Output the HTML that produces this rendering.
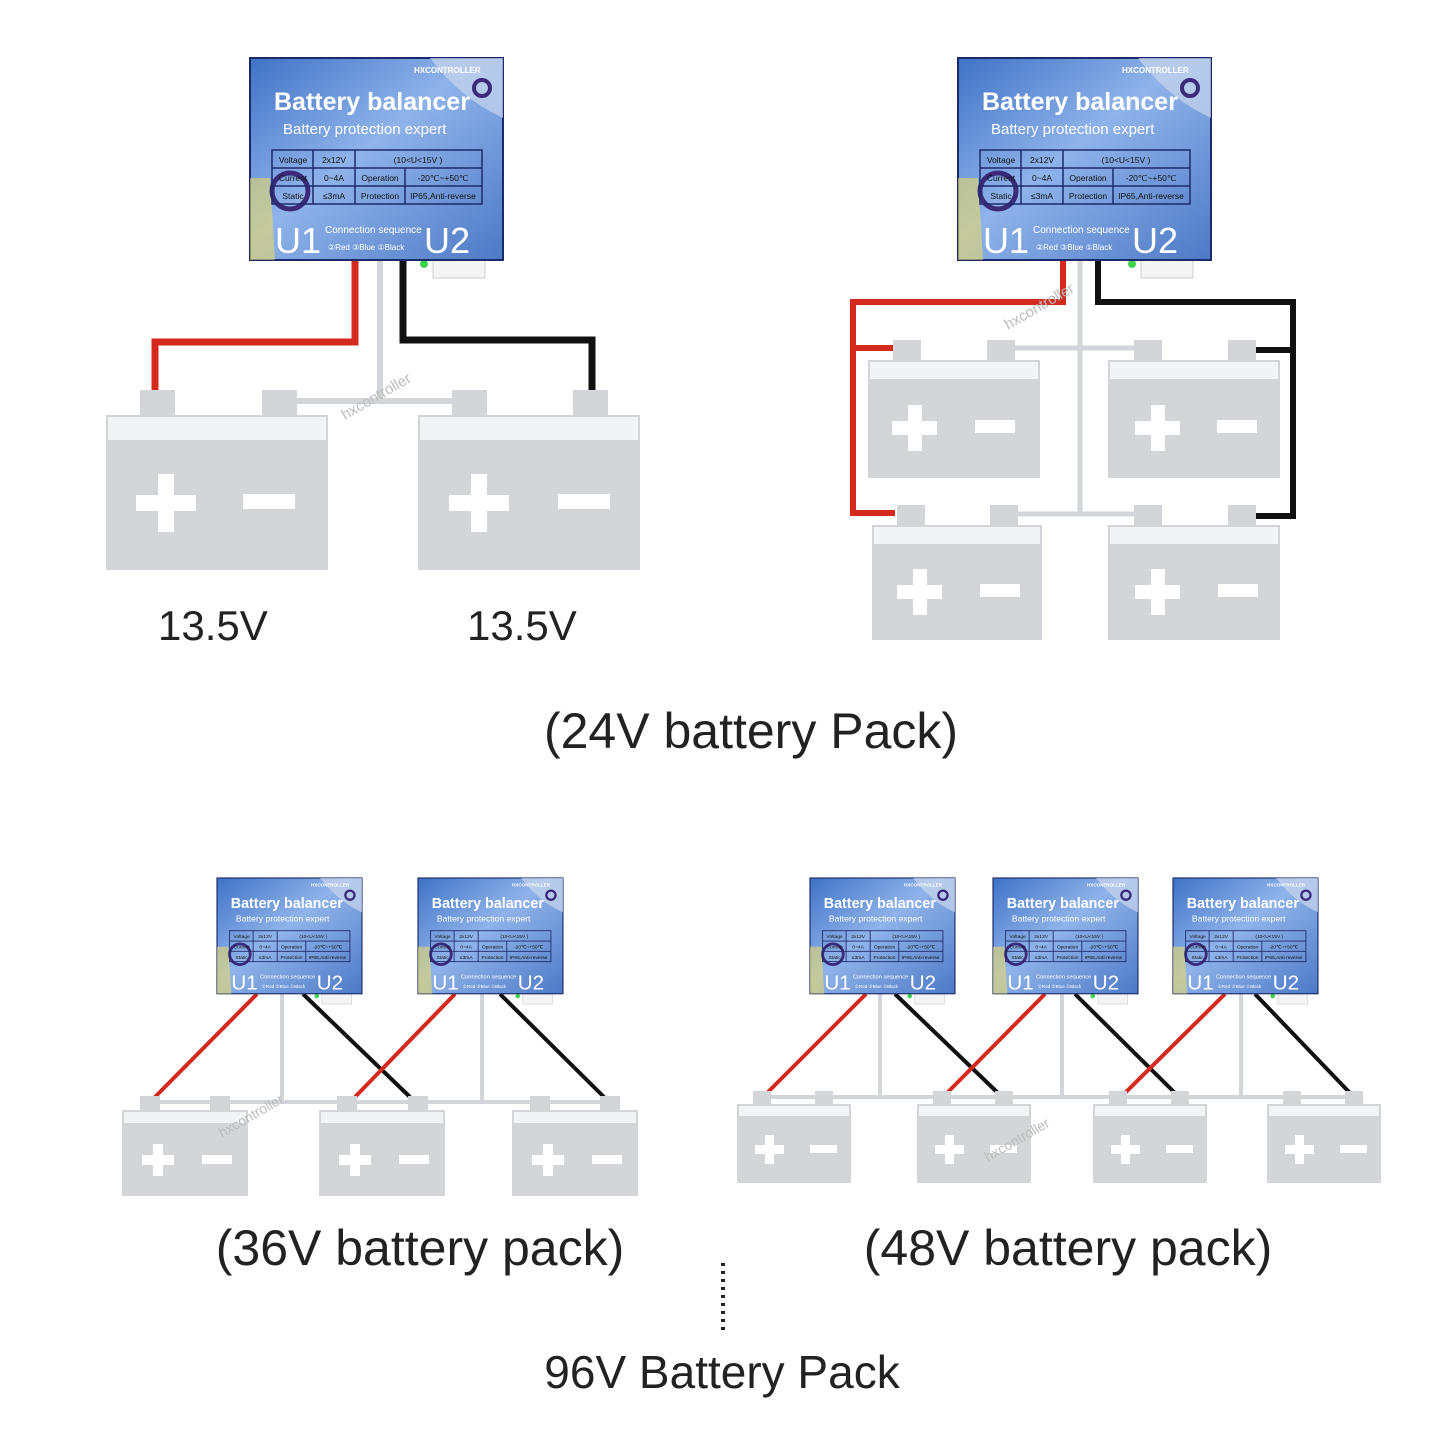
<!DOCTYPE html>
<html><head><meta charset="utf-8"><style>
html,body{margin:0;padding:0;background:#fff}
svg{display:block}
text{font-family:"Liberation Sans",sans-serif}
</style></head><body>
<svg width="1445" height="1445" viewBox="0 0 1445 1445" xmlns="http://www.w3.org/2000/svg">
<defs>
<linearGradient id="bg" x1="0" y1="0" x2="1" y2="1">
<stop offset="0" stop-color="#3f72c6"/><stop offset="0.45" stop-color="#8fb3ea"/><stop offset="1" stop-color="#4d79c6"/>
</linearGradient>
</defs>

<!-- ===== TOP LEFT ===== -->
<g fill="none" stroke-linejoin="miter">
<polyline points="355,258 355,342 155,342 155,392" stroke="#d42a1e" stroke-width="7"/>
<polyline points="380,258 380,400" stroke="#d2d5da" stroke-width="6"/>
<polyline points="403,258 403,340 592,340 592,392" stroke="#111" stroke-width="7"/>
<line x1="295" y1="401" x2="455" y2="401" stroke="#d2d5da" stroke-width="6"/>
</g>
<g fill="#d3d5d9">
<rect x="140" y="390" width="35" height="26"/><rect x="262" y="390" width="35" height="26"/>
<rect x="106" y="415" width="222" height="155"/>
<rect x="452" y="390" width="35" height="26"/><rect x="573" y="390" width="35" height="26"/>
<rect x="418" y="415" width="222" height="155"/>
</g>
<g fill="#f2f3f5"><rect x="108" y="417" width="218" height="23"/><rect x="420" y="417" width="218" height="23"/></g>
<g fill="#fff">
<rect x="136" y="495" width="60" height="16"/><rect x="158" y="474" width="16" height="58"/><rect x="243" y="494" width="52" height="15"/>
<rect x="449" y="495" width="60" height="16"/><rect x="471" y="474" width="16" height="58"/><rect x="558" y="494" width="52" height="15"/>
</g>
<text x="158" y="640" font-size="42" fill="#222">13.5V</text>
<text x="467" y="640" font-size="42" fill="#222">13.5V</text>
<text x="345" y="420" font-size="15" fill="#bbb" transform="rotate(-30 345 420)">hxcontroller</text>

<!-- ===== TOP RIGHT ===== -->
<g fill="none">
<polyline points="1063,258 1063,302 853,302 853,513 895,513" stroke="#d42a1e" stroke-width="6"/>
<line x1="853" y1="348" x2="895" y2="348" stroke="#d42a1e" stroke-width="6"/>
<polyline points="1098,258 1098,302 1293,302 1293,516 1255,516" stroke="#111" stroke-width="6"/>
<line x1="1255" y1="350" x2="1293" y2="350" stroke="#111" stroke-width="6"/>
<line x1="1080" y1="258" x2="1080" y2="515" stroke="#d2d5da" stroke-width="5"/>
<line x1="1015" y1="348" x2="1134" y2="348" stroke="#d2d5da" stroke-width="5"/>
<line x1="1018" y1="514" x2="1134" y2="514" stroke="#d2d5da" stroke-width="5"/>
</g>
<g fill="#d3d5d9">
<rect x="893" y="340" width="28" height="22"/><rect x="987" y="340" width="28" height="22"/>
<rect x="1134" y="340" width="28" height="22"/><rect x="1228" y="340" width="28" height="22"/>
<rect x="868" y="360" width="172" height="118"/><rect x="1108" y="360" width="172" height="118"/>
<rect x="897" y="505" width="28" height="22"/><rect x="990" y="505" width="28" height="22"/>
<rect x="1134" y="505" width="28" height="22"/><rect x="1228" y="505" width="28" height="22"/>
<rect x="872" y="525" width="170" height="115"/><rect x="1108" y="525" width="172" height="115"/>
</g>
<g fill="#f2f3f5">
<rect x="870" y="362" width="168" height="17"/><rect x="1110" y="362" width="168" height="17"/>
<rect x="874" y="527" width="166" height="17"/><rect x="1110" y="527" width="168" height="17"/>
</g>
<g fill="#fff">
<rect x="892" y="421" width="45" height="14"/><rect x="908" y="405" width="14" height="46"/><rect x="975" y="420" width="40" height="13"/>
<rect x="1135" y="421" width="45" height="14"/><rect x="1151" y="405" width="14" height="46"/><rect x="1217" y="420" width="40" height="13"/>
<rect x="897" y="585" width="45" height="14"/><rect x="913" y="569" width="14" height="46"/><rect x="980" y="584" width="40" height="13"/>
<rect x="1135" y="585" width="45" height="14"/><rect x="1151" y="569" width="14" height="46"/><rect x="1218" y="584" width="40" height="13"/>
</g>
<text x="1008" y="330" font-size="15" fill="#bbb" transform="rotate(-30 1008 330)">hxcontroller</text>

<text x="751" y="748" font-size="50" fill="#222" text-anchor="middle">(24V battery Pack)</text>

<!-- ===== 36V ===== -->
<g fill="none">
<line x1="282" y1="992" x2="282" y2="1102" stroke="#d2d5da" stroke-width="4"/>
<line x1="482" y1="992" x2="482" y2="1102" stroke="#d2d5da" stroke-width="4"/>
<line x1="150" y1="1102" x2="612" y2="1102" stroke="#d2d5da" stroke-width="4"/>
<line x1="257" y1="994" x2="155" y2="1097" stroke="#d42a1e" stroke-width="4"/>
<line x1="303" y1="994" x2="410" y2="1097" stroke="#111" stroke-width="4"/>
<line x1="455" y1="994" x2="355" y2="1097" stroke="#d42a1e" stroke-width="4"/>
<line x1="500" y1="994" x2="604" y2="1097" stroke="#111" stroke-width="4"/>
</g>
<g fill="#d3d5d9">
<rect x="140" y="1096" width="20" height="14"/><rect x="210" y="1096" width="20" height="14"/><rect x="122" y="1110" width="126" height="86"/>
<rect x="337" y="1096" width="20" height="14"/><rect x="408" y="1096" width="20" height="14"/><rect x="319" y="1110" width="126" height="86"/>
<rect x="530" y="1096" width="20" height="14"/><rect x="600" y="1096" width="20" height="14"/><rect x="512" y="1110" width="126" height="86"/>
</g>
<g fill="#f2f3f5"><rect x="124" y="1112" width="122" height="11"/><rect x="321" y="1112" width="122" height="11"/><rect x="514" y="1112" width="122" height="11"/></g>
<g fill="#fff">
<rect x="142" y="1155" width="32" height="10"/><rect x="153" y="1144" width="10" height="32"/><rect x="202" y="1155" width="30" height="9"/>
<rect x="339" y="1155" width="32" height="10"/><rect x="350" y="1144" width="10" height="32"/><rect x="399" y="1155" width="30" height="9"/>
<rect x="532" y="1155" width="32" height="10"/><rect x="543" y="1144" width="10" height="32"/><rect x="592" y="1155" width="30" height="9"/>
</g>
<text x="222" y="1138" font-size="14" fill="#bbb" transform="rotate(-30 222 1138)">hxcontroller</text>
<text x="420" y="1265" font-size="50" fill="#222" text-anchor="middle">(36V battery pack)</text>

<!-- ===== 48V ===== -->
<g fill="none">
<line x1="880" y1="992" x2="880" y2="1097" stroke="#d2d5da" stroke-width="4"/>
<line x1="1062" y1="992" x2="1062" y2="1097" stroke="#d2d5da" stroke-width="4"/>
<line x1="1241" y1="992" x2="1241" y2="1097" stroke="#d2d5da" stroke-width="4"/>
<line x1="760" y1="1097" x2="1360" y2="1097" stroke="#d2d5da" stroke-width="4"/>
<line x1="866" y1="994" x2="767" y2="1093" stroke="#d42a1e" stroke-width="4"/>
<line x1="895" y1="994" x2="998" y2="1093" stroke="#111" stroke-width="4"/>
<line x1="1045" y1="994" x2="947" y2="1093" stroke="#d42a1e" stroke-width="4"/>
<line x1="1075" y1="994" x2="1175" y2="1093" stroke="#111" stroke-width="4"/>
<line x1="1225" y1="994" x2="1125" y2="1093" stroke="#d42a1e" stroke-width="4"/>
<line x1="1255" y1="994" x2="1350" y2="1093" stroke="#111" stroke-width="4"/>
</g>
<g fill="#d3d5d9">
<rect x="753" y="1091" width="18" height="14"/><rect x="815" y="1091" width="18" height="14"/><rect x="737" y="1104" width="114" height="79"/>
<rect x="933" y="1091" width="18" height="14"/><rect x="995" y="1091" width="18" height="14"/><rect x="917" y="1104" width="114" height="79"/>
<rect x="1109" y="1091" width="18" height="14"/><rect x="1171" y="1091" width="18" height="14"/><rect x="1093" y="1104" width="114" height="79"/>
<rect x="1283" y="1091" width="18" height="14"/><rect x="1345" y="1091" width="18" height="14"/><rect x="1267" y="1104" width="114" height="79"/>
</g>
<g fill="#f2f3f5"><rect x="739" y="1106" width="110" height="10"/><rect x="919" y="1106" width="110" height="10"/><rect x="1095" y="1106" width="110" height="10"/><rect x="1269" y="1106" width="110" height="10"/></g>
<g fill="#fff">
<rect x="755" y="1145" width="29" height="9"/><rect x="765" y="1135" width="9" height="29"/><rect x="810" y="1145" width="27" height="8"/>
<rect x="935" y="1145" width="29" height="9"/><rect x="945" y="1135" width="9" height="29"/><rect x="990" y="1145" width="27" height="8"/>
<rect x="1111" y="1145" width="29" height="9"/><rect x="1121" y="1135" width="9" height="29"/><rect x="1166" y="1145" width="27" height="8"/>
<rect x="1285" y="1145" width="29" height="9"/><rect x="1295" y="1135" width="9" height="29"/><rect x="1340" y="1145" width="27" height="8"/>
</g>
<text x="988" y="1162" font-size="14" fill="#bbb" transform="rotate(-30 988 1162)">hxcontroller</text>
<text x="1068" y="1265" font-size="50" fill="#222" text-anchor="middle">(48V battery pack)</text>

<line x1="723" y1="1263" x2="723" y2="1330" stroke="#222" stroke-width="4" stroke-dasharray="3,5"/>
<text x="722" y="1388" font-size="46" fill="#222" text-anchor="middle" font-family="DejaVu Sans, sans-serif">96V Battery Pack</text>

<!-- ===== BALANCERS ===== -->
<g transform="translate(250,58)">
<rect x="170" y="202" width="8" height="8" rx="4" fill="#3cd44a"/>
<rect x="183" y="200" width="52" height="20" fill="#f4f4f4" stroke="#ccc"/>
<rect x="0" y="0" width="253" height="202" fill="url(#bg)" stroke="#1b2a6a" stroke-width="2"/>
<path d="M180,0 L253,0 L253,60 Q210,40 180,0Z" fill="#c9d6ee" opacity="0.7"/>
<path d="M0,120 L20,120 L25,202 L0,202Z" fill="#e8d86a" opacity="0.6"/>
<circle cx="40" cy="133" r="18" fill="none" stroke="#3b2a7a" stroke-width="5"/>
<circle cx="232" cy="30" r="8" fill="none" stroke="#3b2a7a" stroke-width="4"/>
<text x="164" y="15" font-size="8" fill="#fff" font-weight="bold">HXCONTROLLER</text>
<text x="24" y="52" font-size="25" fill="#fff" font-weight="bold">Battery balancer</text>
<text x="33" y="76" font-size="15" fill="#fff">Battery protection expert</text>
<g stroke="#1e2a6a" stroke-width="1.5" fill="none">
<rect x="22" y="92" width="210" height="54"/>
<line x1="22" y1="110" x2="232" y2="110"/><line x1="22" y1="128" x2="232" y2="128"/>
<line x1="63" y1="92" x2="63" y2="146"/><line x1="105" y1="92" x2="105" y2="146"/><line x1="155" y1="110" x2="155" y2="146"/>
</g>
<g font-size="8.5" fill="#111" text-anchor="middle">
<text x="43" y="105">Voltage</text><text x="84" y="105">2x12V</text><text x="168" y="105">(10&lt;U&lt;15V )</text>
<text x="43" y="123">Current</text><text x="84" y="123">0~4A</text><text x="130" y="123">Operation</text><text x="193" y="123">-20℃~+50℃</text>
<text x="43" y="141">Static</text><text x="84" y="141">≤3mA</text><text x="130" y="141">Protection</text><text x="193" y="141">IP65,Anti-reverse</text>
</g>
<text x="25" y="195" font-size="36" fill="#fff">U1</text>
<text x="174" y="195" font-size="36" fill="#fff">U2</text>
<text x="75" y="175" font-size="10" fill="#fff">Connection sequence</text>
<text x="78" y="192" font-size="8" fill="#fff">②Red  ③Blue  ①Black</text>
</g>

<g transform="translate(958,58)">
<rect x="170" y="202" width="8" height="8" rx="4" fill="#3cd44a"/>
<rect x="183" y="200" width="52" height="20" fill="#f4f4f4" stroke="#ccc"/>
<rect x="0" y="0" width="253" height="202" fill="url(#bg)" stroke="#1b2a6a" stroke-width="2"/>
<path d="M180,0 L253,0 L253,60 Q210,40 180,0Z" fill="#c9d6ee" opacity="0.7"/>
<path d="M0,120 L20,120 L25,202 L0,202Z" fill="#e8d86a" opacity="0.6"/>
<circle cx="40" cy="133" r="18" fill="none" stroke="#3b2a7a" stroke-width="5"/>
<circle cx="232" cy="30" r="8" fill="none" stroke="#3b2a7a" stroke-width="4"/>
<text x="164" y="15" font-size="8" fill="#fff" font-weight="bold">HXCONTROLLER</text>
<text x="24" y="52" font-size="25" fill="#fff" font-weight="bold">Battery balancer</text>
<text x="33" y="76" font-size="15" fill="#fff">Battery protection expert</text>
<g stroke="#1e2a6a" stroke-width="1.5" fill="none">
<rect x="22" y="92" width="210" height="54"/>
<line x1="22" y1="110" x2="232" y2="110"/><line x1="22" y1="128" x2="232" y2="128"/>
<line x1="63" y1="92" x2="63" y2="146"/><line x1="105" y1="92" x2="105" y2="146"/><line x1="155" y1="110" x2="155" y2="146"/>
</g>
<g font-size="8.5" fill="#111" text-anchor="middle">
<text x="43" y="105">Voltage</text><text x="84" y="105">2x12V</text><text x="168" y="105">(10&lt;U&lt;15V )</text>
<text x="43" y="123">Current</text><text x="84" y="123">0~4A</text><text x="130" y="123">Operation</text><text x="193" y="123">-20℃~+50℃</text>
<text x="43" y="141">Static</text><text x="84" y="141">≤3mA</text><text x="130" y="141">Protection</text><text x="193" y="141">IP65,Anti-reverse</text>
</g>
<text x="25" y="195" font-size="36" fill="#fff">U1</text>
<text x="174" y="195" font-size="36" fill="#fff">U2</text>
<text x="75" y="175" font-size="10" fill="#fff">Connection sequence</text>
<text x="78" y="192" font-size="8" fill="#fff">②Red  ③Blue  ①Black</text>
</g>

<g transform="translate(217,878) scale(0.573)">
<rect x="170" y="202" width="8" height="8" rx="4" fill="#3cd44a"/><rect x="183" y="200" width="52" height="20" fill="#f4f4f4" stroke="#ccc"/>
<rect x="0" y="0" width="253" height="202" fill="url(#bg)" stroke="#1b2a6a" stroke-width="2"/>
<path d="M180,0 L253,0 L253,60 Q210,40 180,0Z" fill="#c9d6ee" opacity="0.7"/><path d="M0,120 L20,120 L25,202 L0,202Z" fill="#e8d86a" opacity="0.6"/>
<circle cx="40" cy="133" r="18" fill="none" stroke="#3b2a7a" stroke-width="5"/><circle cx="232" cy="30" r="8" fill="none" stroke="#3b2a7a" stroke-width="4"/>
<text x="164" y="15" font-size="8" fill="#fff" font-weight="bold">HXCONTROLLER</text>
<text x="24" y="52" font-size="25" fill="#fff" font-weight="bold">Battery balancer</text><text x="33" y="76" font-size="15" fill="#fff">Battery protection expert</text>
<g stroke="#1e2a6a" stroke-width="1.5" fill="none"><rect x="22" y="92" width="210" height="54"/><line x1="22" y1="110" x2="232" y2="110"/><line x1="22" y1="128" x2="232" y2="128"/><line x1="63" y1="92" x2="63" y2="146"/><line x1="105" y1="92" x2="105" y2="146"/><line x1="155" y1="110" x2="155" y2="146"/></g>
<g font-size="8.5" fill="#111" text-anchor="middle"><text x="43" y="105">Voltage</text><text x="84" y="105">2x12V</text><text x="168" y="105">(10&lt;U&lt;15V )</text><text x="43" y="123">Current</text><text x="84" y="123">0~4A</text><text x="130" y="123">Operation</text><text x="193" y="123">-20℃~+50℃</text><text x="43" y="141">Static</text><text x="84" y="141">≤3mA</text><text x="130" y="141">Protection</text><text x="193" y="141">IP65,Anti-reverse</text></g>
<text x="25" y="195" font-size="36" fill="#fff">U1</text><text x="174" y="195" font-size="36" fill="#fff">U2</text>
<text x="75" y="175" font-size="10" fill="#fff">Connection sequence</text><text x="78" y="192" font-size="8" fill="#fff">②Red  ③Blue  ①Black</text>
</g>
<g transform="translate(418,878) scale(0.573)">
<rect x="170" y="202" width="8" height="8" rx="4" fill="#3cd44a"/><rect x="183" y="200" width="52" height="20" fill="#f4f4f4" stroke="#ccc"/>
<rect x="0" y="0" width="253" height="202" fill="url(#bg)" stroke="#1b2a6a" stroke-width="2"/>
<path d="M180,0 L253,0 L253,60 Q210,40 180,0Z" fill="#c9d6ee" opacity="0.7"/><path d="M0,120 L20,120 L25,202 L0,202Z" fill="#e8d86a" opacity="0.6"/>
<circle cx="40" cy="133" r="18" fill="none" stroke="#3b2a7a" stroke-width="5"/><circle cx="232" cy="30" r="8" fill="none" stroke="#3b2a7a" stroke-width="4"/>
<text x="164" y="15" font-size="8" fill="#fff" font-weight="bold">HXCONTROLLER</text>
<text x="24" y="52" font-size="25" fill="#fff" font-weight="bold">Battery balancer</text><text x="33" y="76" font-size="15" fill="#fff">Battery protection expert</text>
<g stroke="#1e2a6a" stroke-width="1.5" fill="none"><rect x="22" y="92" width="210" height="54"/><line x1="22" y1="110" x2="232" y2="110"/><line x1="22" y1="128" x2="232" y2="128"/><line x1="63" y1="92" x2="63" y2="146"/><line x1="105" y1="92" x2="105" y2="146"/><line x1="155" y1="110" x2="155" y2="146"/></g>
<g font-size="8.5" fill="#111" text-anchor="middle"><text x="43" y="105">Voltage</text><text x="84" y="105">2x12V</text><text x="168" y="105">(10&lt;U&lt;15V )</text><text x="43" y="123">Current</text><text x="84" y="123">0~4A</text><text x="130" y="123">Operation</text><text x="193" y="123">-20℃~+50℃</text><text x="43" y="141">Static</text><text x="84" y="141">≤3mA</text><text x="130" y="141">Protection</text><text x="193" y="141">IP65,Anti-reverse</text></g>
<text x="25" y="195" font-size="36" fill="#fff">U1</text><text x="174" y="195" font-size="36" fill="#fff">U2</text>
<text x="75" y="175" font-size="10" fill="#fff">Connection sequence</text><text x="78" y="192" font-size="8" fill="#fff">②Red  ③Blue  ①Black</text>
</g>
<g transform="translate(810,878) scale(0.573)">
<rect x="170" y="202" width="8" height="8" rx="4" fill="#3cd44a"/><rect x="183" y="200" width="52" height="20" fill="#f4f4f4" stroke="#ccc"/>
<rect x="0" y="0" width="253" height="202" fill="url(#bg)" stroke="#1b2a6a" stroke-width="2"/>
<path d="M180,0 L253,0 L253,60 Q210,40 180,0Z" fill="#c9d6ee" opacity="0.7"/><path d="M0,120 L20,120 L25,202 L0,202Z" fill="#e8d86a" opacity="0.6"/>
<circle cx="40" cy="133" r="18" fill="none" stroke="#3b2a7a" stroke-width="5"/><circle cx="232" cy="30" r="8" fill="none" stroke="#3b2a7a" stroke-width="4"/>
<text x="164" y="15" font-size="8" fill="#fff" font-weight="bold">HXCONTROLLER</text>
<text x="24" y="52" font-size="25" fill="#fff" font-weight="bold">Battery balancer</text><text x="33" y="76" font-size="15" fill="#fff">Battery protection expert</text>
<g stroke="#1e2a6a" stroke-width="1.5" fill="none"><rect x="22" y="92" width="210" height="54"/><line x1="22" y1="110" x2="232" y2="110"/><line x1="22" y1="128" x2="232" y2="128"/><line x1="63" y1="92" x2="63" y2="146"/><line x1="105" y1="92" x2="105" y2="146"/><line x1="155" y1="110" x2="155" y2="146"/></g>
<g font-size="8.5" fill="#111" text-anchor="middle"><text x="43" y="105">Voltage</text><text x="84" y="105">2x12V</text><text x="168" y="105">(10&lt;U&lt;15V )</text><text x="43" y="123">Current</text><text x="84" y="123">0~4A</text><text x="130" y="123">Operation</text><text x="193" y="123">-20℃~+50℃</text><text x="43" y="141">Static</text><text x="84" y="141">≤3mA</text><text x="130" y="141">Protection</text><text x="193" y="141">IP65,Anti-reverse</text></g>
<text x="25" y="195" font-size="36" fill="#fff">U1</text><text x="174" y="195" font-size="36" fill="#fff">U2</text>
<text x="75" y="175" font-size="10" fill="#fff">Connection sequence</text><text x="78" y="192" font-size="8" fill="#fff">②Red  ③Blue  ①Black</text>
</g>
<g transform="translate(993,878) scale(0.573)">
<rect x="170" y="202" width="8" height="8" rx="4" fill="#3cd44a"/><rect x="183" y="200" width="52" height="20" fill="#f4f4f4" stroke="#ccc"/>
<rect x="0" y="0" width="253" height="202" fill="url(#bg)" stroke="#1b2a6a" stroke-width="2"/>
<path d="M180,0 L253,0 L253,60 Q210,40 180,0Z" fill="#c9d6ee" opacity="0.7"/><path d="M0,120 L20,120 L25,202 L0,202Z" fill="#e8d86a" opacity="0.6"/>
<circle cx="40" cy="133" r="18" fill="none" stroke="#3b2a7a" stroke-width="5"/><circle cx="232" cy="30" r="8" fill="none" stroke="#3b2a7a" stroke-width="4"/>
<text x="164" y="15" font-size="8" fill="#fff" font-weight="bold">HXCONTROLLER</text>
<text x="24" y="52" font-size="25" fill="#fff" font-weight="bold">Battery balancer</text><text x="33" y="76" font-size="15" fill="#fff">Battery protection expert</text>
<g stroke="#1e2a6a" stroke-width="1.5" fill="none"><rect x="22" y="92" width="210" height="54"/><line x1="22" y1="110" x2="232" y2="110"/><line x1="22" y1="128" x2="232" y2="128"/><line x1="63" y1="92" x2="63" y2="146"/><line x1="105" y1="92" x2="105" y2="146"/><line x1="155" y1="110" x2="155" y2="146"/></g>
<g font-size="8.5" fill="#111" text-anchor="middle"><text x="43" y="105">Voltage</text><text x="84" y="105">2x12V</text><text x="168" y="105">(10&lt;U&lt;15V )</text><text x="43" y="123">Current</text><text x="84" y="123">0~4A</text><text x="130" y="123">Operation</text><text x="193" y="123">-20℃~+50℃</text><text x="43" y="141">Static</text><text x="84" y="141">≤3mA</text><text x="130" y="141">Protection</text><text x="193" y="141">IP65,Anti-reverse</text></g>
<text x="25" y="195" font-size="36" fill="#fff">U1</text><text x="174" y="195" font-size="36" fill="#fff">U2</text>
<text x="75" y="175" font-size="10" fill="#fff">Connection sequence</text><text x="78" y="192" font-size="8" fill="#fff">②Red  ③Blue  ①Black</text>
</g>
<g transform="translate(1173,878) scale(0.573)">
<rect x="170" y="202" width="8" height="8" rx="4" fill="#3cd44a"/><rect x="183" y="200" width="52" height="20" fill="#f4f4f4" stroke="#ccc"/>
<rect x="0" y="0" width="253" height="202" fill="url(#bg)" stroke="#1b2a6a" stroke-width="2"/>
<path d="M180,0 L253,0 L253,60 Q210,40 180,0Z" fill="#c9d6ee" opacity="0.7"/><path d="M0,120 L20,120 L25,202 L0,202Z" fill="#e8d86a" opacity="0.6"/>
<circle cx="40" cy="133" r="18" fill="none" stroke="#3b2a7a" stroke-width="5"/><circle cx="232" cy="30" r="8" fill="none" stroke="#3b2a7a" stroke-width="4"/>
<text x="164" y="15" font-size="8" fill="#fff" font-weight="bold">HXCONTROLLER</text>
<text x="24" y="52" font-size="25" fill="#fff" font-weight="bold">Battery balancer</text><text x="33" y="76" font-size="15" fill="#fff">Battery protection expert</text>
<g stroke="#1e2a6a" stroke-width="1.5" fill="none"><rect x="22" y="92" width="210" height="54"/><line x1="22" y1="110" x2="232" y2="110"/><line x1="22" y1="128" x2="232" y2="128"/><line x1="63" y1="92" x2="63" y2="146"/><line x1="105" y1="92" x2="105" y2="146"/><line x1="155" y1="110" x2="155" y2="146"/></g>
<g font-size="8.5" fill="#111" text-anchor="middle"><text x="43" y="105">Voltage</text><text x="84" y="105">2x12V</text><text x="168" y="105">(10&lt;U&lt;15V )</text><text x="43" y="123">Current</text><text x="84" y="123">0~4A</text><text x="130" y="123">Operation</text><text x="193" y="123">-20℃~+50℃</text><text x="43" y="141">Static</text><text x="84" y="141">≤3mA</text><text x="130" y="141">Protection</text><text x="193" y="141">IP65,Anti-reverse</text></g>
<text x="25" y="195" font-size="36" fill="#fff">U1</text><text x="174" y="195" font-size="36" fill="#fff">U2</text>
<text x="75" y="175" font-size="10" fill="#fff">Connection sequence</text><text x="78" y="192" font-size="8" fill="#fff">②Red  ③Blue  ①Black</text>
</g>
</svg>
</body></html>
